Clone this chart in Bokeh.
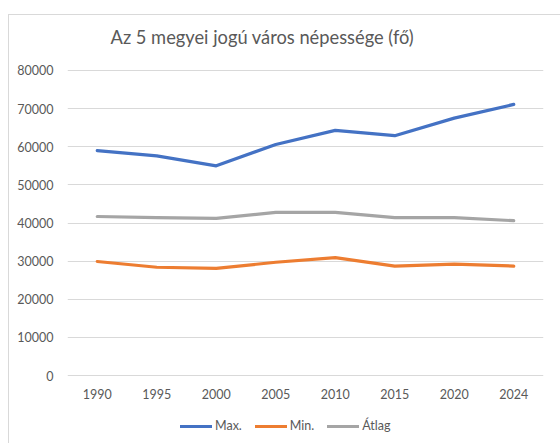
from bokeh.plotting import figure
from bokeh.layouts import column
from bokeh.models import Range1d, FactorRange, FixedTicker, BasicTickFormatter, Legend, LegendItem, Label
from bokeh.embed import file_html
from bokeh.resources import INLINE

years = ["1990", "1995", "2000", "2005", "2010", "2015", "2020", "2024"]
max_vals = [59000, 57600, 55000, 60600, 64300, 62900, 67500, 71100]
min_vals = [29900, 28400, 28100, 29700, 30900, 28700, 29200, 28700]
avg_vals = [41700, 41400, 41200, 42800, 42800, 41400, 41400, 40600]
y_ticks = [0, 10000, 20000, 30000, 40000, 50000, 60000, 70000, 80000]
title_text = "Az 5 megyei jogú város népessége (fő)"
series_names = ["Max.", "Min.", "Átlag"]
colors = ["#4472C4", "#ED7D31", "#A5A5A5"]

FONT = "Lato"
TXT = "#595959"
W = 551
BL, BR = 58, 17  # left / right borders (frame spans BL .. W-BR)


def strip(h):
    f = figure(width=W, height=h, x_range=Range1d(BL, W - BR), y_range=Range1d(0, h),
               output_backend="svg", toolbar_location=None,
               x_axis_location=None, y_axis_location=None,
               min_border_left=BL, min_border_right=BR, min_border_top=0, min_border_bottom=0,
               background_fill_color="white", border_fill_color="white")
    f.outline_line_color = None
    f.grid.visible = False
    return f


# title strip
pt = strip(40)
pt.add_layout(Label(x=101, y=19, text=title_text, text_font=FONT, text_font_size="18.3px",
                    text_color=TXT, text_align="left", text_baseline="middle"))

# main chart
p = figure(
    width=W, height=355,
    x_range=FactorRange(*years, range_padding=0),
    y_range=Range1d(-262, 80262),
    output_backend="svg", toolbar_location=None,
    min_border_left=BL, min_border_right=BR,
    min_border_top=14, min_border_bottom=34,
    background_fill_color="white", border_fill_color="white",
)
p.outline_line_color = None
p.xgrid.grid_line_color = None
p.ygrid.grid_line_color = "#D9D9D9"
p.ygrid.grid_line_width = 1
p.yaxis.ticker = FixedTicker(ticks=y_ticks)
p.yaxis.formatter = BasicTickFormatter(use_scientific=False)

for ax in (p.xaxis[0], p.yaxis[0]):
    ax.axis_line_color = None
    ax.major_tick_line_color = None
    ax.minor_tick_line_color = None
    ax.major_tick_out = 0
    ax.major_tick_in = 0
    ax.minor_tick_out = 0
    ax.major_label_text_font = FONT
    ax.major_label_text_font_size = "12.5px"
    ax.major_label_text_color = TXT
p.yaxis.major_label_standoff = 14
p.xaxis.major_label_standoff = 12

for vals, c in zip([max_vals, min_vals, avg_vals], colors):
    p.line(years, vals, line_color=c, line_width=3.2, line_join="round", line_cap="round")

# legend strip
pl = strip(33)
items = []
for name, c in zip(series_names, colors):
    r = pl.line([BL, BL + 1], [-50, -50], line_color=c, line_width=3.2, line_cap="round")
    items.append(LegendItem(label=name, renderers=[r]))
legend = Legend(items=items, orientation="horizontal", location=(171 - BL, 10),
                padding=0, margin=0, spacing=13, label_standoff=3,
                glyph_width=32, glyph_height=14, label_height=14,
                border_line_color=None, background_fill_alpha=0,
                label_text_font=FONT, label_text_font_size="12.5px", label_text_color=TXT)
pl.add_layout(legend, "center")

layout = column(pt, p, pl, spacing=0,
                styles={"margin-top": "14px", "margin-left": "8px",
                        "border-top": "1px solid #D9D9D9", "border-left": "1px solid #D9D9D9"})

open("out.html", "w").write(file_html(layout, INLINE))
